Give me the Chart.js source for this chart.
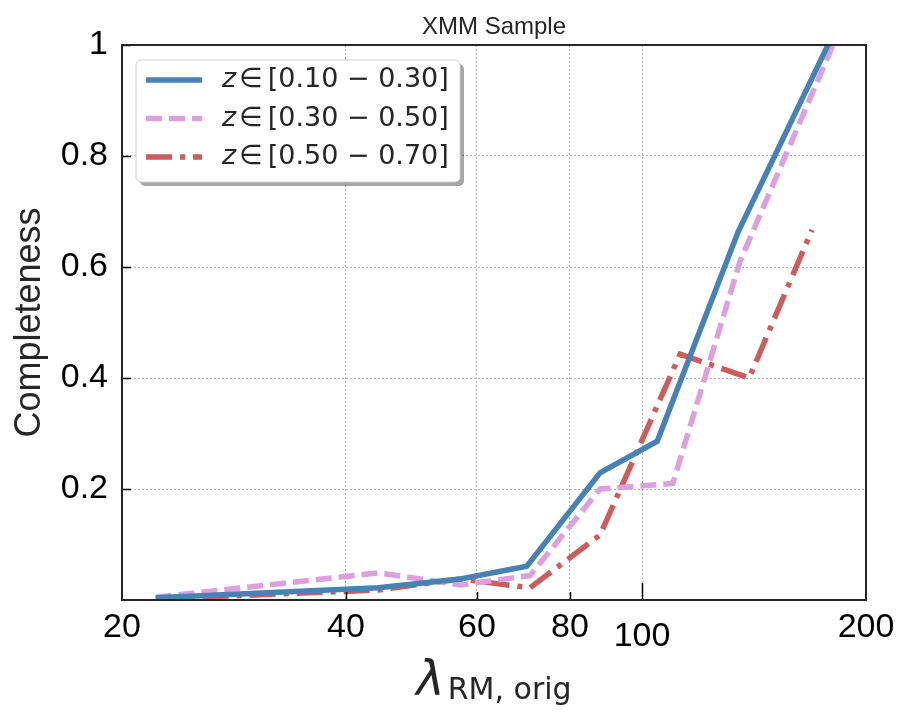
<!DOCTYPE html>
<html>
<head>
<meta charset="utf-8">
<script src="https://cdn.jsdelivr.net/npm/chart.js@4.4.0/dist/chart.umd.min.js"></script>
<style>
    body { margin: 0; background: #fff; }
    #wrap { width: 912px; height: 721px; }
</style>
</head>
<body>
<div id="wrap"><canvas id="chart" width="912" height="721"></canvas></div>
<script>
// completeness per lambda bin, one x/y pair of arrays per redshift slice
const xLow = [22.2, 44.2, 57, 70, 87.8, 104.8, 134.6, 177.8];
const yLow = [0.004, 0.022, 0.038, 0.061, 0.229, 0.286, 0.663, 1.0];
const xMid = [22.2, 44.2, 57, 70.7, 87.8, 110, 135.4, 180.6];
const yMid = [0.005, 0.049, 0.027, 0.044, 0.200, 0.210, 0.610, 1.0];
const xHigh = [22.2, 44.2, 57, 70.7, 87.8, 112.5, 139.3, 169.2];
const yHigh = [0.002, 0.018, 0.038, 0.022, 0.117, 0.443, 0.400, 0.667];

const seriesLabels = ['[0.10 \u2212 0.30]', '[0.30 \u2212 0.50]', '[0.50 \u2212 0.70]'];
const xTicks = [20, 40, 60, 80, 100, 200];
const yTicks = [0, 0.2, 0.4, 0.6, 0.8, 1];

const SANS = '"Liberation Sans", Arial, sans-serif';
const DEJAVU = '"DejaVu Sans", sans-serif';
const INK = '#262626';

function toPoints(xs, ys) {
    return xs.map((x, i) => ({ x: x, y: ys[i] }));
}

// title, frame, inward ticks, x tick labels, x title and legend
const decorations = {
    id: 'decorations',
    afterDraw(chart) {
        const ctx = chart.ctx;
        const a = chart.chartArea;
        const xs = chart.scales.x;
        const ys = chart.scales.y;
        const cx = (a.left + a.right) / 2;
        ctx.save();

        // title over the plot centre
        ctx.fillStyle = INK;
        ctx.font = '24px ' + SANS;
        ctx.textAlign = 'center';
        ctx.textBaseline = 'middle';
        ctx.fillText('XMM Sample', cx, 27);

        // inward ticks
        ctx.strokeStyle = '#000';
        ctx.lineWidth = 1.5;
        yTicks.forEach(v => {
            if (v === 0) return;
            const py = Math.round(ys.getPixelForValue(v)) + 0.5;
            ctx.beginPath();
            ctx.moveTo(a.left, py);
            ctx.lineTo(a.left + 9, py);
            ctx.stroke();
        });
        xTicks.forEach(v => {
            if (v === 20 || v === 200) return;
            const px = Math.round(xs.getPixelForValue(v)) + 0.5;
            const len = v === 100 ? 17 : 8;
            ctx.beginPath();
            ctx.moveTo(px, a.bottom);
            ctx.lineTo(px, a.bottom - len);
            ctx.stroke();
        });

        // frame
        ctx.strokeStyle = INK;
        ctx.lineWidth = 2;
        ctx.strokeRect(a.left, a.top, a.right - a.left, a.bottom - a.top);

        // x tick labels (100 sits a bit lower, as in the original)
        ctx.fillStyle = '#000';
        ctx.font = '34px ' + SANS;
        ctx.textAlign = 'center';
        ctx.textBaseline = 'alphabetic';
        xTicks.forEach(v => {
            const px = xs.getPixelForValue(v);
            ctx.fillText(String(v), px, v === 100 ? 646 : 637);
        });

        // x title: lambda_{RM, orig}
        ctx.fillStyle = INK;
        ctx.textAlign = 'left';
        const lam = '\u03bb';
        ctx.font = '30px ' + DEJAVU;
        const subW = ctx.measureText('RM, orig').width;
        ctx.font = 'italic 48px ' + DEJAVU;
        const lamW = ctx.measureText(lam).width;
        const x0 = cx - (lamW + 3 + subW) / 2;
        ctx.fillText(lam, x0, 695);
        ctx.font = '30px ' + DEJAVU;
        ctx.fillText('RM, orig', x0 + lamW + 3, 699);

        // legend box with shadow
        const bx = 136, by = 60, bw = 324, bh = 122;
        ctx.fillStyle = 'rgba(0,0,0,0.35)';
        ctx.beginPath();
        ctx.roundRect(bx + 4, by + 4, bw, bh, 5);
        ctx.fill();
        ctx.fillStyle = '#fff';
        ctx.strokeStyle = '#d0d0d0';
        ctx.lineWidth = 1;
        ctx.beginPath();
        ctx.roundRect(bx, by, bw, bh, 5);
        ctx.fill();
        ctx.stroke();

        chart.data.datasets.forEach((ds, i) => {
            const ly = 80 + i * 38.5;
            ctx.strokeStyle = ds.borderColor;
            ctx.lineWidth = ds.borderWidth;
            ctx.setLineDash(ds.borderDash || []);
            ctx.lineCap = 'butt';
            ctx.beginPath();
            ctx.moveTo(146, ly);
            ctx.lineTo(202, ly);
            ctx.stroke();
            ctx.setLineDash([]);

            ctx.fillStyle = INK;
            ctx.textBaseline = 'middle';
            ctx.font = 'italic 27px ' + DEJAVU;
            ctx.fillText('z', 222, ly);
            const zW = ctx.measureText('z').width;
            ctx.font = '27px ' + DEJAVU;
            ctx.fillText('\u2208', 222 + zW + 3, ly);
            const inW = ctx.measureText('\u2208').width;
            ctx.fillText(seriesLabels[i], 222 + zW + 3 + inW + 5, ly);
        });

        ctx.restore();
    }
};

const ctx = document.getElementById('chart');
new Chart(ctx, {
    type: 'line',
    data: {
        datasets: [
            {
                label: 'z in [0.10 - 0.30]',
                data: toPoints(xLow, yLow),
                borderColor: '#4682b4',
                borderWidth: 5.5
            },
            {
                label: 'z in [0.30 - 0.50]',
                data: toPoints(xMid, yMid),
                borderColor: '#dda0dd',
                borderWidth: 5.5,
                borderDash: [16, 7]
            },
            {
                label: 'z in [0.50 - 0.70]',
                data: toPoints(xHigh, yHigh),
                borderColor: '#cd5c5c',
                borderWidth: 5.5,
                borderDash: [26, 8, 5, 8]
            }
        ]
    },
    options: {
        responsive: false,
        animation: false,
        elements: {
            point: { radius: 0 },
            line: { tension: 0, fill: false }
        },
        layout: { padding: { left: 0, right: 46, top: 45, bottom: 0 } },
        plugins: {
            legend: { display: false },
            tooltip: { enabled: false },
            title: { display: false }
        },
        scales: {
            x: {
                type: 'logarithmic',
                min: 20,
                max: 200,
                afterBuildTicks: s => { s.ticks = xTicks.map(v => ({ value: v })); },
                afterFit: s => { s.height = 121; },
                ticks: { display: false },
                grid: {
                    drawTicks: false,
                    color: c => (c.tick && (c.tick.value === 20 || c.tick.value === 200)) ? 'rgba(0,0,0,0)' : '#a0a0a0',
                    lineWidth: 0.8
                },
                border: { display: false, dash: [2, 2] }
            },
            y: {
                min: 0,
                max: 1,
                afterBuildTicks: s => { s.ticks = yTicks.map(v => ({ value: v })); },
                afterFit: s => { s.width = 122; },
                ticks: {
                    color: '#000',
                    padding: 14,
                    font: { family: SANS, size: 34 },
                    callback: v => v === 0 ? '' : (v === 1 ? '1' : v.toFixed(1))
                },
                grid: {
                    drawTicks: false,
                    color: c => (c.tick && (c.tick.value === 0 || c.tick.value === 1)) ? 'rgba(0,0,0,0)' : '#a0a0a0',
                    lineWidth: 0.8
                },
                border: { display: false, dash: [2, 2] },
                title: {
                    display: true,
                    text: 'Completeness',
                    color: INK,
                    font: { family: SANS, size: 36 },
                    padding: { top: 8, bottom: 0 }
                }
            }
        }
    },
    plugins: [decorations]
});
</script>
</body>
</html>
